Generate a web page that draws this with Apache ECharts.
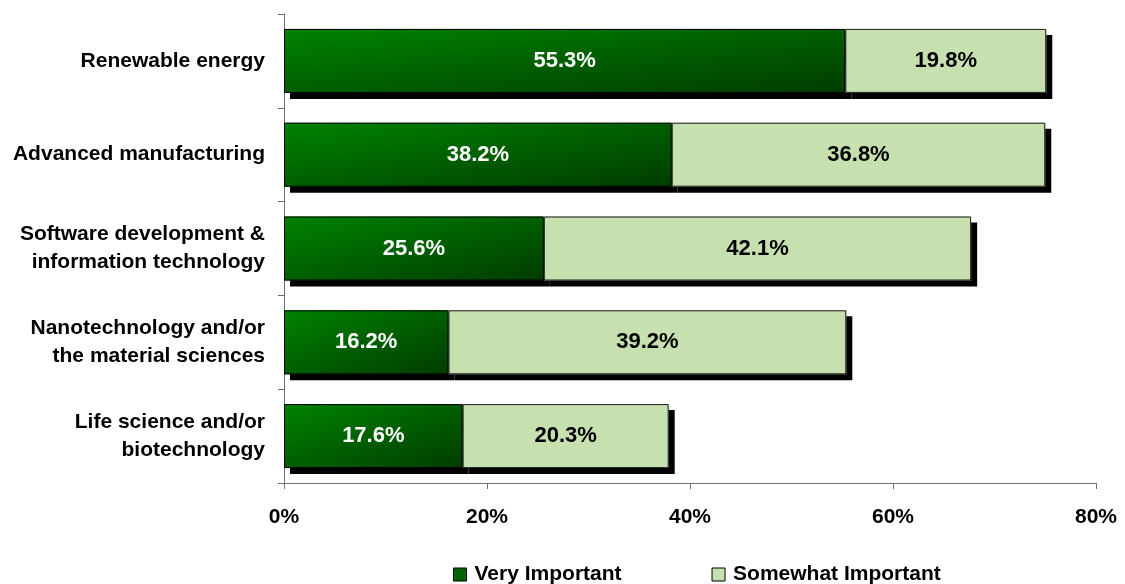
<!DOCTYPE html>
<html><head><meta charset="utf-8">
<script src="https://cdn.jsdelivr.net/npm/echarts@6/dist/echarts.min.js"></script>
<style>html,body{margin:0;padding:0;background:#fff}#c{width:1125px;height:584px}</style>
</head><body><div id="c"></div>
<script>
const categories = ["Renewable energy", "Advanced manufacturing", "Software development &\ninformation technology", "Nanotechnology and/or\nthe material sciences", "Life science and/or\nbiotechnology"];
const veryImportant = [55.3, 38.2, 25.6, 16.2, 17.6];
const somewhatImportant = [19.8, 36.8, 42.1, 39.2, 20.3];
const xTicks = [0, 20, 40, 60, 80];

const FONT = "'Liberation Sans', Arial, sans-serif";
const BAR_H = 64;
const chart = echarts.init(document.getElementById('c'), null, {renderer: 'canvas'});
const shadow = {shadowColor: '#000', shadowBlur: 0, shadowOffsetX: 6, shadowOffsetY: 6};
const lbl = (color) => ({show: true, position: 'inside', fontFamily: FONT, fontWeight: 'bold', fontSize: 22, color: color,
  formatter: p => Number(p.value).toFixed(1) + '%'});

chart.setOption({
  animation: false,
  grid: {left: 284, right: 29, top: 14, bottom: 101, containLabel: false},
  legend: {
    top: 559, left: 448, itemWidth: 13, itemHeight: 13, itemGap: 90,
    icon: 'rect',
    textStyle: {fontFamily: FONT, fontWeight: 'bold', fontSize: 21, color: '#000', padding: [0, 0, 0, 3]},
    data: [
      {name: 'Very Important', itemStyle: {color: '#006400', borderColor: '#000', borderWidth: 1, shadowOffsetX: 0, shadowOffsetY: 0}},
      {name: 'Somewhat Important', itemStyle: {color: '#C6E0B0', borderColor: '#000', borderWidth: 1, shadowOffsetX: 0, shadowOffsetY: 0}}
    ]
  },
  xAxis: {
    type: 'value', min: 0, max: 80, interval: 20,
    axisLine: {show: true, lineStyle: {color: '#6f6f6f', width: 1}},
    axisTick: {show: true, length: 6, lineStyle: {color: '#6f6f6f'}},
    splitLine: {show: false},
    axisLabel: {fontFamily: FONT, fontWeight: 'bold', fontSize: 21, color: '#000', margin: 24,
      formatter: v => xTicks.includes(v) ? v + '%' : ''}
  },
  yAxis: {
    type: 'category', data: categories, inverse: true,
    axisLine: {show: true, lineStyle: {color: '#6f6f6f', width: 1}},
    axisTick: {show: true, length: 6, lineStyle: {color: '#6f6f6f'}},
    axisLabel: {fontFamily: FONT, fontWeight: 'bold', fontSize: 21, color: '#000', margin: 19, lineHeight: 28, align: 'right'}
  },
  series: [
    {name: 'Very Important', type: 'bar', stack: 'a', barWidth: BAR_H, barGap: '-100%', data: veryImportant,
      itemStyle: Object.assign({color: '#006400'}, shadow), label: lbl('#fff')},
    {name: 'Somewhat Important', type: 'bar', stack: 'a', barWidth: BAR_H, barGap: '-100%', data: somewhatImportant,
      itemStyle: Object.assign({color: '#C6E0B0'}, shadow), label: lbl('#000')},
    {name: 'vb', type: 'bar', stack: 'b', barWidth: BAR_H, barGap: '-100%', data: veryImportant, silent: true,
      itemStyle: {color: 'rgba(0,0,0,0)', borderColor: '#000', borderWidth: 1}},
    {name: 'sb', type: 'bar', stack: 'b', barWidth: BAR_H, barGap: '-100%', data: somewhatImportant, silent: true,
      itemStyle: {color: 'rgba(0,0,0,0)', borderColor: '#1a1a1a', borderWidth: 1}}
  ]
});

// Excel-style diagonal gradient (in normalized shape space) per bar
const x0 = chart.convertToPixel({xAxisIndex: 0}, 0);
const grad = (v) => {
  const w = Math.max(1, chart.convertToPixel({xAxisIndex: 0}, v) - x0);
  const h = BAR_H;
  const k = 2 / (1 / (w * w) + 1 / (h * h));
  return new echarts.graphic.LinearGradient(0, 0, k / (w * w), k / (h * h), [
    {offset: 0, color: '#008200'}, {offset: 1, color: '#003c00'}]);
};
chart.setOption({series: [{data: veryImportant.map(v => ({value: v, itemStyle: {color: grad(v)}}))}]});
</script></body></html>
